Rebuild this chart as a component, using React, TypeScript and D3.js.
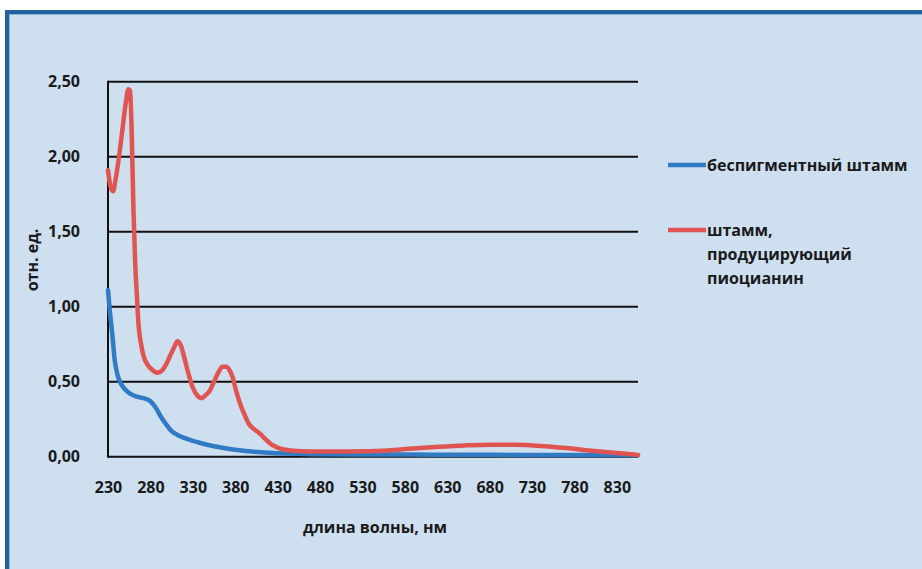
import React, { useEffect, useRef } from 'react';
import * as d3 from 'd3';

// x ticks (nm) and y ticks (relative units)
const wavelengthTicks = [230, 280, 330, 380, 430, 480, 530, 580, 630, 680, 730, 780, 830];
const valueTicks = [0, 0.5, 1, 1.5, 2, 2.5];

// беспигментный штамм
const plainNm = [230, 232, 235, 238, 241, 245, 250, 256, 264, 272, 280, 286, 292, 298, 305, 312, 320, 330, 340, 355, 370, 385, 400, 420, 440, 470, 520, 580, 650, 720, 790, 855];
const plainVal = [1.11, 0.98, 0.82, 0.64, 0.55, 0.49, 0.45, 0.42, 0.4, 0.39, 0.37, 0.33, 0.27, 0.22, 0.17, 0.145, 0.125, 0.105, 0.09, 0.07, 0.055, 0.043, 0.034, 0.026, 0.021, 0.017, 0.015, 0.014, 0.013, 0.012, 0.012, 0.01];

// штамм, продуцирующий пиоцианин
const pyoNm = [230, 233, 236, 239, 243, 247, 251, 254, 256, 258, 260, 262, 264, 266, 269, 272, 277, 282, 288, 293, 298, 303, 308, 312, 316, 320, 325, 330, 335, 340, 345, 350, 355, 360, 365, 369, 373, 377, 381, 386, 391, 396, 402, 409, 416, 423, 430, 437, 445, 460, 480, 500, 530, 560, 590, 620, 650, 680, 710, 740, 770, 800, 830, 855];
const pyoVal = [1.91, 1.8, 1.77, 1.85, 2.0, 2.18, 2.36, 2.45, 2.44, 2.15, 1.65, 1.3, 1.08, 0.88, 0.75, 0.67, 0.61, 0.58, 0.56, 0.57, 0.61, 0.67, 0.73, 0.77, 0.74, 0.66, 0.55, 0.46, 0.41, 0.39, 0.41, 0.44, 0.5, 0.56, 0.6, 0.6, 0.58, 0.53, 0.44, 0.35, 0.28, 0.22, 0.185, 0.155, 0.115, 0.08, 0.06, 0.048, 0.042, 0.036, 0.034, 0.034, 0.036, 0.042, 0.055, 0.066, 0.075, 0.08, 0.079, 0.072, 0.058, 0.04, 0.024, 0.012];

const seriesNames = ['беспигментный штамм', 'штамм, продуцирующий пиоцианин'];
const seriesColors = ['#2f7bc4', '#e05552'];

const App = () => {
  const svgRef = useRef<SVGSVGElement>(null);

  useEffect(() => {
    const svg = d3.select(svgRef.current);
    svg.selectAll('*').remove();

    const width = 922;
    const height = 569;
    const font = '"Open Sans", sans-serif';
    const fontSize = '16px';
    const left = 108, right = 638, top = 81.7, bottom = 456.7;

    // frame
    svg.append('rect')
      .attr('x', 7).attr('y', 12)
      .attr('width', width + 10).attr('height', height + 10)
      .attr('fill', '#cedff0')
      .attr('stroke', '#21629c')
      .attr('stroke-width', 4);
    svg.append('rect')
      .attr('x', 9.5).attr('y', 14.5)
      .attr('width', width + 10).attr('height', height + 10)
      .attr('fill', 'none')
      .attr('stroke', '#8ab4dd')
      .attr('stroke-width', 1);

    const x = d3.scaleLinear().domain([230, 855]).range([left, right]);
    const y = d3.scaleLinear().domain([0, 2.5]).range([bottom, top]);

    const g = svg.append('g');

    // gridlines
    g.selectAll('line.grid')
      .data(valueTicks)
      .enter()
      .append('line')
      .attr('x1', left).attr('x2', right)
      .attr('y1', d => y(d)).attr('y2', d => y(d))
      .attr('stroke', '#111')
      .attr('stroke-width', 2);

    g.append('line')
      .attr('x1', left).attr('x2', left)
      .attr('y1', top - 1).attr('y2', bottom + 1)
      .attr('stroke', '#111')
      .attr('stroke-width', 2);

    // Y axis labels
    const fmt = (d: number) => d3.format('.2f')(d).replace('.', ',');
    g.append('g')
      .attr('transform', `translate(${left - 20},0)`)
      .call(d3.axisLeft(y).tickValues(valueTicks).tickFormat(fmt as any).tickSize(0).tickPadding(8))
      .call(a => a.select('.domain').remove())
      .call(a => a.selectAll('text')
        .style('font-family', font).style('font-weight', 700).style('font-size', fontSize)
        .style('fill', '#1a1a1a'));

    // X axis labels
    g.append('g')
      .attr('transform', `translate(0,${bottom + 25})`)
      .call(d3.axisBottom(x).tickValues(wavelengthTicks).tickFormat(d3.format('d') as any).tickSize(0).tickPadding(0))
      .call(a => a.select('.domain').remove())
      .call(a => a.selectAll('text')
        .style('font-family', font).style('font-weight', 700).style('font-size', fontSize)
        .style('fill', '#1a1a1a'));

    // lines
    const line = d3.line<[number, number]>()
      .x(d => x(d[0]))
      .y(d => y(d[1]))
      .curve(d3.curveMonotoneX);

    const plain = plainNm.map((n, i) => [n, plainVal[i]] as [number, number]);
    const pyo = pyoNm.map((n, i) => [n, pyoVal[i]] as [number, number]);

    [plain, pyo].forEach((s, i) => {
      g.append('path')
        .datum(s)
        .attr('d', line)
        .attr('fill', 'none')
        .attr('stroke', seriesColors[i])
        .attr('stroke-width', 4.5)
        .attr('stroke-linejoin', 'round')
        .attr('stroke-linecap', 'round');
    });

    // axis titles
    svg.append('text')
      .attr('x', 375).attr('y', 533)
      .attr('text-anchor', 'middle')
      .style('font-family', font).style('font-weight', 700).style('font-size', fontSize)
      .style('fill', '#1a1a1a')
      .text('длина волны, нм');

    svg.append('text')
      .attr('transform', 'translate(38,260) rotate(-90)')
      .attr('text-anchor', 'middle')
      .style('font-family', font).style('font-weight', 700).style('font-size', fontSize)
      .style('fill', '#1a1a1a')
      .text('отн. ед.');

    // legend
    const legend = svg.append('g');
    const legendRows = [[seriesNames[0]], ['штамм,', 'продуцирующий', 'пиоцианин']];
    const legendY = [165, 230];
    legendRows.forEach((rows, i) => {
      legend.append('line')
        .attr('x1', 668).attr('x2', 706)
        .attr('y1', legendY[i]).attr('y2', legendY[i])
        .attr('stroke', seriesColors[i])
        .attr('stroke-width', 4.5);
      rows.forEach((t, j) => {
        legend.append('text')
          .attr('x', 707).attr('y', legendY[i] + 2 + j * 24)
          .attr('dominant-baseline', 'middle')
          .style('font-family', font).style('font-weight', 700).style('font-size', fontSize)
          .style('fill', '#1a1a1a')
          .text(t);
      });
    });
  }, []);

  return (
    <svg
      ref={svgRef}
      width={922}
      height={569}
      style={{ position: 'absolute', left: 0, top: 0, background: '#fff' }}
    />
  );
};

export default App;
